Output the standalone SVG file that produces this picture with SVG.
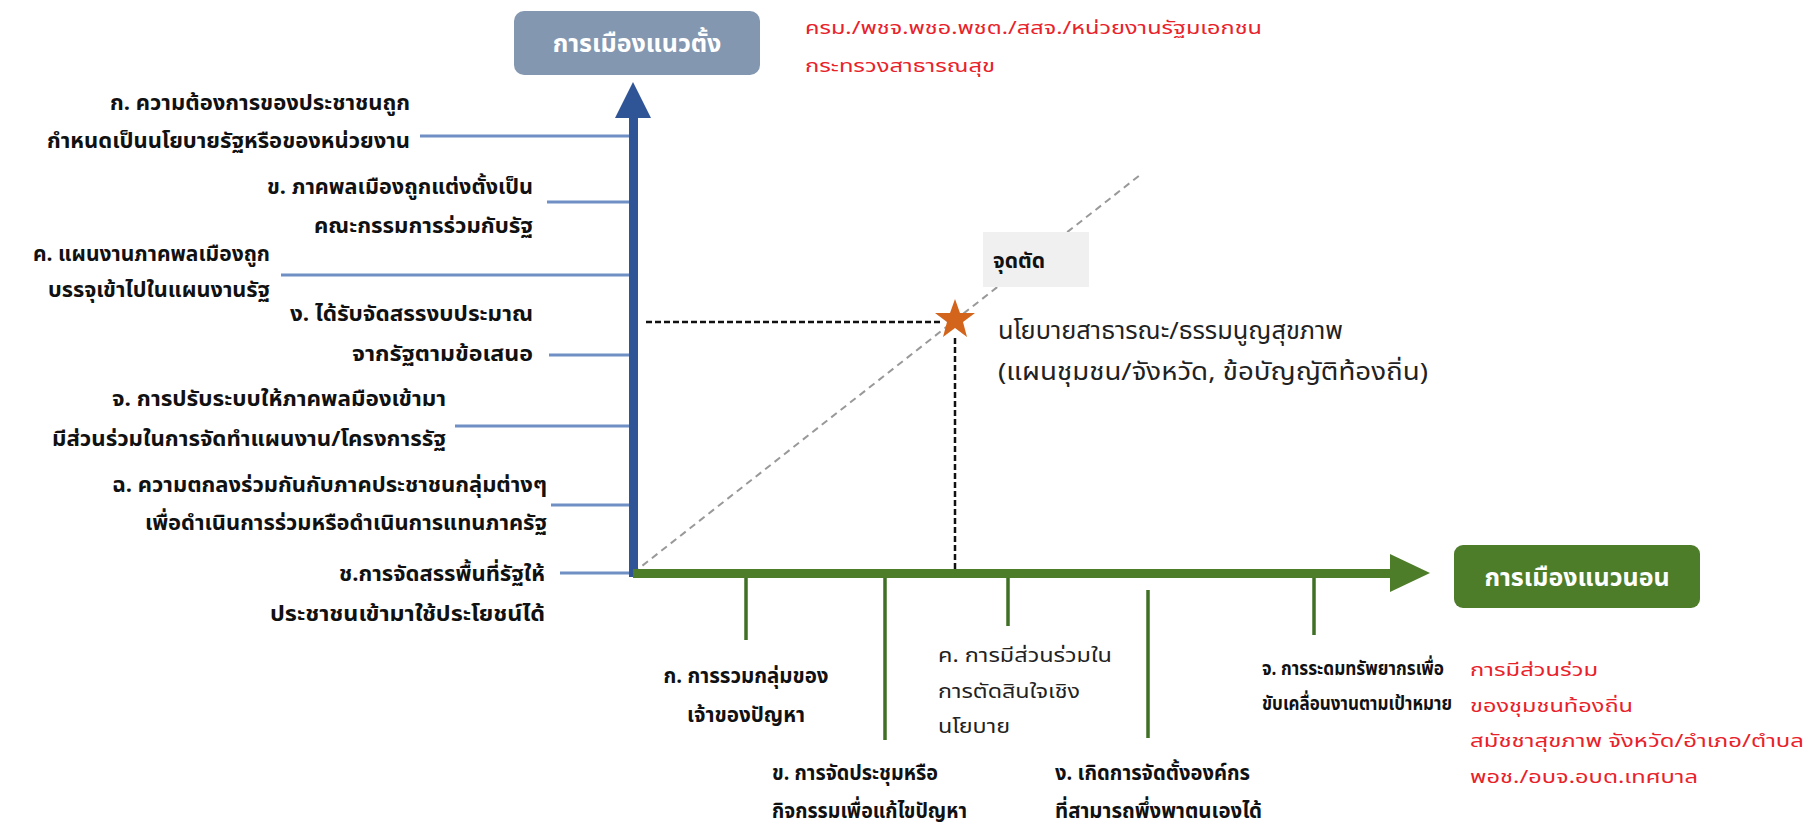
<svg xmlns="http://www.w3.org/2000/svg" width="1809" height="827" viewBox="0 0 1809 827">
<defs>
<style>
text{font-family:"Noto Sans Thai","Noto Sans","DejaVu Sans",sans-serif}
.t{font-size:21px;font-weight:bold;fill:#111}
.s{font-size:19px;font-weight:bold;fill:#111}
.r{font-size:18px;fill:#e8222a}
.n{font-size:20px;fill:#222}
.big{font-size:24px;fill:#222}
.box{font-size:25px;font-weight:bold;fill:#fff}
.bt{stroke:#6f8fc5;stroke-width:3}
.gt{stroke:#3f7025;stroke-width:3.5}
</style>
</defs>
<rect width="1809" height="827" fill="#fff"/>
<g id="connectors">
<line x1="633" y1="573" x2="1140" y2="175" stroke="#999" stroke-width="2" stroke-dasharray="7,5"/>
<line x1="646" y1="322" x2="940" y2="322" stroke="#111" stroke-width="2.5" stroke-dasharray="6,3"/>
<line x1="955" y1="338" x2="955" y2="573" stroke="#111" stroke-width="2.5" stroke-dasharray="6,3"/>
<g class="bt">
<line x1="420" y1="136" x2="630" y2="136"/>
<line x1="547" y1="202" x2="630" y2="202"/>
<line x1="281" y1="275" x2="630" y2="275"/>
<line x1="549" y1="355" x2="630" y2="355"/>
<line x1="455" y1="426" x2="630" y2="426"/>
<line x1="551" y1="505" x2="630" y2="505"/>
<line x1="560" y1="573" x2="630" y2="573"/>
</g>
<g class="gt">
<line x1="746" y1="573" x2="746" y2="640"/>
<line x1="885" y1="573" x2="885" y2="740"/>
<line x1="1008" y1="573" x2="1008" y2="626"/>
<line x1="1148" y1="590" x2="1148" y2="738"/>
<line x1="1314" y1="573" x2="1314" y2="635"/>
</g>
<rect x="629" y="116" width="9" height="461" fill="#2f5597"/>
<polygon points="633,82 651,118 615,118" fill="#2f5597"/>
<rect x="633" y="569" width="760" height="9" fill="#4e7d2a"/>
<polygon points="1430,573 1390,554 1390,592" fill="#4e7d2a"/>
</g>
<g id="vertical-axis">
<rect x="514" y="11" width="246" height="64" rx="10" fill="#8497b0"/>
<text class="box" x="637" y="52" text-anchor="middle">การเมืองแนวตั้ง</text>
</g>
<g id="horizontal-axis">
<rect x="1454" y="545" width="246" height="63" rx="9" fill="#4e7d2a"/>
<text class="box" x="1577" y="586" text-anchor="middle">การเมืองแนวนอน</text>
</g>
<g id="vertical-actors">
<text class="r" x="805" y="34" textLength="457" lengthAdjust="spacingAndGlyphs">ครม./พชจ.พชอ.พชต./สสจ./หน่วยงานรัฐมเอกชน</text>
<text class="r" x="805" y="72" textLength="190" lengthAdjust="spacingAndGlyphs">กระทรวงสาธารณสุข</text>
</g>
<g id="horizontal-actors">
<text class="r" x="1470" y="676" textLength="128" lengthAdjust="spacingAndGlyphs">การมีส่วนร่วม</text>
<text class="r" x="1470" y="712" textLength="163" lengthAdjust="spacingAndGlyphs">ของชุมชนท้องถิ่น</text>
<text class="r" x="1470" y="747" textLength="334" lengthAdjust="spacingAndGlyphs">สมัชชาสุขภาพ จังหวัด/อำเภอ/ตำบล</text>
<text class="r" x="1470" y="783" textLength="228" lengthAdjust="spacingAndGlyphs">พอช./อบจ.อบต.เทศบาล</text>
</g>
<g id="intersection">
<rect x="983" y="232" width="106" height="55" fill="#f0f0f0"/>
<text class="t" x="993" y="268">จุดตัด</text>
<polygon points="955,299 960,313 975,313 963,322 967,337 955,328 943,337 947,322 935,313 950,313" fill="#d3641c"/>
<text class="big" x="998" y="339" textLength="345" lengthAdjust="spacingAndGlyphs">นโยบายสาธารณะ/ธรรมนูญสุขภาพ</text>
<text class="big" x="998" y="380" textLength="430" lengthAdjust="spacingAndGlyphs">(แผนชุมชน/จังหวัด, ข้อบัญญัติท้องถิ่น)</text>
</g>
<g id="v-a"><text class="t" x="410" y="110" text-anchor="end" textLength="300" lengthAdjust="spacingAndGlyphs">ก. ความต้องการของประชาชนถูก</text><text class="t" x="410" y="148" text-anchor="end" textLength="363" lengthAdjust="spacingAndGlyphs">กำหนดเป็นนโยบายรัฐหรือของหน่วยงาน</text></g>
<g id="v-b"><text class="t" x="533" y="194" text-anchor="end" textLength="266" lengthAdjust="spacingAndGlyphs">ข. ภาคพลเมืองถูกแต่งตั้งเป็น</text><text class="t" x="533" y="233" text-anchor="end" textLength="219" lengthAdjust="spacingAndGlyphs">คณะกรรมการร่วมกับรัฐ</text></g>
<g id="v-c"><text class="t" x="270" y="261" text-anchor="end" textLength="237" lengthAdjust="spacingAndGlyphs">ค. แผนงานภาคพลเมืองถูก</text><text class="t" x="270" y="297" text-anchor="end" textLength="222" lengthAdjust="spacingAndGlyphs">บรรจุเข้าไปในแผนงานรัฐ</text></g>
<g id="v-d"><text class="t" x="533" y="321" text-anchor="end" textLength="243" lengthAdjust="spacingAndGlyphs">ง. ได้รับจัดสรรงบประมาณ</text><text class="t" x="533" y="361" text-anchor="end" textLength="181" lengthAdjust="spacingAndGlyphs">จากรัฐตามข้อเสนอ</text></g>
<g id="v-e"><text class="t" x="446" y="406" text-anchor="end" textLength="334" lengthAdjust="spacingAndGlyphs">จ. การปรับระบบให้ภาคพลมืองเข้ามา</text><text class="t" x="446" y="446" text-anchor="end" textLength="394" lengthAdjust="spacingAndGlyphs">มีส่วนร่วมในการจัดทำแผนงาน/โครงการรัฐ</text></g>
<g id="v-f"><text class="t" x="547" y="492" text-anchor="end" textLength="435" lengthAdjust="spacingAndGlyphs">ฉ. ความตกลงร่วมกันกับภาคประชาชนกลุ่มต่างๆ</text><text class="t" x="547" y="530" text-anchor="end" textLength="402" lengthAdjust="spacingAndGlyphs">เพื่อดำเนินการร่วมหรือดำเนินการแทนภาครัฐ</text></g>
<g id="v-g"><text class="t" x="545" y="581" text-anchor="end" textLength="206" lengthAdjust="spacingAndGlyphs">ช.การจัดสรรพื้นที่รัฐให้</text><text class="t" x="545" y="621" text-anchor="end" textLength="275" lengthAdjust="spacingAndGlyphs">ประชาชนเข้ามาใช้ประโยชน์ได้</text></g>
<g id="h-a"><text class="t" x="746" y="683" text-anchor="middle" textLength="165" lengthAdjust="spacingAndGlyphs">ก. การรวมกลุ่มของ</text><text class="t" x="746" y="722" text-anchor="middle" textLength="118" lengthAdjust="spacingAndGlyphs">เจ้าของปัญหา</text></g>
<g id="h-b"><text class="t" x="772" y="780" textLength="166" lengthAdjust="spacingAndGlyphs">ข. การจัดประชุมหรือ</text><text class="t" x="772" y="818" textLength="195" lengthAdjust="spacingAndGlyphs">กิจกรรมเพื่อแก้ไขปัญหา</text></g>
<g id="h-c"><text class="n" x="938" y="662" textLength="174" lengthAdjust="spacingAndGlyphs">ค. การมีส่วนร่วมใน</text><text class="n" x="938" y="698" textLength="142" lengthAdjust="spacingAndGlyphs">การตัดสินใจเชิง</text><text class="n" x="938" y="733" textLength="72" lengthAdjust="spacingAndGlyphs">นโยบาย</text></g>
<g id="h-d"><text class="t" x="1055" y="780" textLength="195" lengthAdjust="spacingAndGlyphs">ง. เกิดการจัดตั้งองค์กร</text><text class="t" x="1055" y="818" textLength="207" lengthAdjust="spacingAndGlyphs">ที่สามารถพึ่งพาตนเองได้</text></g>
<g id="h-e"><text class="s" x="1262" y="675" textLength="182" lengthAdjust="spacingAndGlyphs">จ. การระดมทรัพยากรเพื่อ</text><text class="s" x="1262" y="710" textLength="190" lengthAdjust="spacingAndGlyphs">ขับเคลื่อนงานตามเป้าหมาย</text></g>
</svg>
